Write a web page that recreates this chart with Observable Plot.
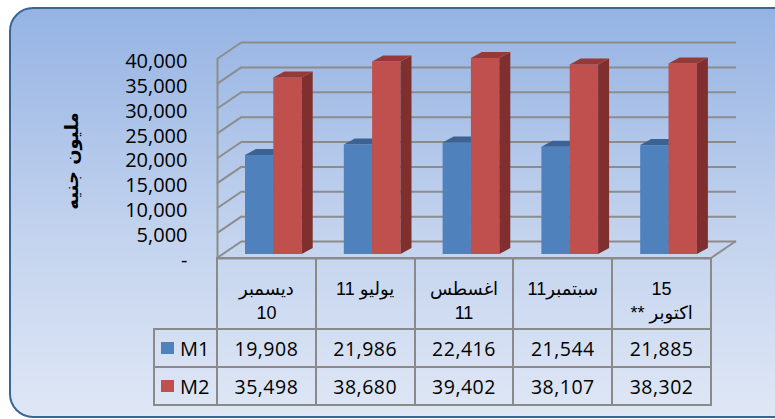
<!DOCTYPE html>
<html>
<head>
<meta charset="utf-8">
<script src="https://cdn.jsdelivr.net/npm/d3@7"></script>
<script src="https://cdn.jsdelivr.net/npm/@observablehq/plot@0.6"></script>
<style>
  body { margin: 0; }
  #wrap { position: relative; width: 775px; height: 419px; overflow: hidden; font-family: "Open Sans", "DejaVu Sans", sans-serif; }
  #bg { position: absolute; left: 9px; top: 7px; width: 800px; height: 411px; box-sizing: border-box;
        border: 2px solid #3a6696; border-radius: 24px;
        background: linear-gradient(to bottom, #95b3e3 0%, #c3d3ee 55%, #dfe7f5 100%); }
  #chart { position: absolute; left: 0; top: 0; }
  .cell { position: absolute; box-sizing: border-box; border: 2px solid #8a8a8a; color: #000;
          display: flex; justify-content: center; align-items: center; }
  .num { font-family: "Open Sans", sans-serif; font-size: 19.5px; letter-spacing: 0.5px; }
  .head { align-items: flex-start; padding-top: 18px; line-height: 24px; font-family: "Liberation Sans", "DejaVu Sans", sans-serif;
          font-size: 18px; text-align: center; direction: rtl; }
  .lab { justify-content: flex-start; font-family: "Open Sans", sans-serif; font-size: 20px; }
  .sw { display: inline-block; width: 13px; height: 12px; margin-left: 6px; margin-right: 6px; }
</style>
</head>
<body>
<div id="wrap">
  <div id="bg"></div>
  <div id="chart"></div>
  <div id="table"></div>
</div>
<script>
// ---------- data ----------
const categories = ["ديسمبر 10", "يوليو 11", "اغسطس 11", "سبتمبر11", "15 اكتوبر**"];
const categoryLines = [["ديسمبر", "10"], ["يوليو 11"], ["اغسطس", "11"], ["سبتمبر11"], ["15", "اكتوبر **"]];
const seriesNames = ["M1", "M2"];
const m1 = [19908, 21986, 22416, 21544, 21885];
const m2 = [35498, 38680, 39402, 38107, 38302];
const yTicks = [0, 5000, 10000, 15000, 20000, 25000, 30000, 35000, 40000];
const yTitle = "مليون جنيه";

// ---------- style ----------
const colors = {M1: "#4f81bd", M2: "#c0504d"};
const tops = {M1: "#3a6394", M2: "#973a37"};
const sides = {M1: "#375d8b", M2: "#7f2f2d"};
const GRID = "#8c8c8c";
const WALL_DX = 25, WALL_DY = -17;   // depth of the 3D box
const BAR_DX = 11, BAR_DY = -6;      // depth of each bar
const BAR_FRONT_DY = -4;             // bars' front plane relative to floor front
const insets = {M1: [28, 42.5], M2: [56.3, 14.1]};

const n = categories.length;
const rows = categories.flatMap((c, i) => [
  {i, c, s: "M1", v: m1[i]},
  {i, c, s: "M2", v: m2[i]}
]);

function faces(series) {
  const [inL, inR] = insets[series];
  const data = rows.filter(d => d.s === series);
  return (index, scales) => {
    const g = d3.create("svg:g");
    for (const d of data) {
      const x1 = scales.x(d.i) + inL, x2 = scales.x(d.i + 1) - inR;
      const y0 = scales.y(0) + BAR_FRONT_DY, yv = scales.y(d.v) + BAR_FRONT_DY;
      g.append("polygon")
        .attr("points", [[x2, y0], [x2, yv], [x2 + BAR_DX, yv + BAR_DY], [x2 + BAR_DX, y0 + BAR_DY]].join(" "))
        .attr("fill", sides[series]);
      g.append("polygon")
        .attr("points", [[x1, yv], [x2, yv], [x2 + BAR_DX, yv + BAR_DY], [x1 + BAR_DX, yv + BAR_DY]].join(" "))
        .attr("fill", tops[series]);
    }
    return g.node();
  };
}

function slants(index, scales) {
  const g = d3.create("svg:g").attr("stroke", GRID).attr("stroke-width", 2);
  const segs = yTicks.map(t => [scales.x(0), scales.y(t)]).concat([[scales.x(n), scales.y(0)]]);
  for (const [x, y] of segs) {
    g.append("line").attr("x1", x).attr("y1", y).attr("x2", x + WALL_DX).attr("y2", y + WALL_DY);
  }
  return g.node();
}

function bars(series) {
  const [inL, inR] = insets[series];
  return Plot.rectY(rows.filter(d => d.s === series), {
    x1: "i", x2: d => d.i + 1, y1: 0, y2: "v",
    insetLeft: inL, insetRight: inR, dy: BAR_FRONT_DY, fill: colors[series]
  });
}

const chart = Plot.plot({
  width: 775, height: 270,
  marginLeft: 217, marginRight: 64, marginTop: 59, marginBottom: 12,
  x: {type: "linear", domain: [0, n], axis: null},
  y: {domain: [0, 40000], axis: null},
  style: {background: "transparent", overflow: "visible", fontFamily: "'Open Sans', 'DejaVu Sans', sans-serif"},
  marks: [
    Plot.ruleY(yTicks, {x1: 0, x2: n, dx: WALL_DX, dy: WALL_DY, stroke: GRID, strokeWidth: 2}),
    slants,
    Plot.ruleX([0], {y1: 0, y2: 40000, stroke: GRID, strokeWidth: 2}),
    Plot.ruleY([0], {x1: 0, x2: n, stroke: GRID, strokeWidth: 2}),
    bars("M1"), faces("M1"),
    bars("M2"), faces("M2"),
    Plot.text(yTicks, {x: 0, y: d => d, text: d => d === 0 ? "-" : d3.format(",")(d),
      dx: -30, dy: 2, textAnchor: "end", fontSize: 20, fill: "#000", ariaLabel: "ytick"}),
    Plot.text([yTitle], {frameAnchor: "left", textAnchor: "middle", rotate: -90, dx: -145, dy: 2, fontSize: 18, fontWeight: "bold",
      fontFamily: "DejaVu Sans", fill: "#000", ariaLabel: "ytitle"})
  ]
});
d3.select(chart).selectAll('g[aria-label="ytick"] text').style("letter-spacing", "1.5px");
document.getElementById("chart").appendChild(chart);

// ---------- data table (columns follow the chart's x scale) ----------
const xs = chart.scale("x");
const rowEdges = [258, 329, 367, 405];
const labelLeft = 154;
const table = document.getElementById("table");
function cell(left, right, top, bottom, cls, html) {
  const d = document.createElement("div");
  d.className = "cell " + cls;
  d.style.left = (left - 1) + "px";
  d.style.top = (top - 1) + "px";
  d.style.width = (right - left + 2) + "px";
  d.style.height = (bottom - top + 2) + "px";
  d.innerHTML = html;
  table.appendChild(d);
  return d;
}
const fmt = d3.format(",");
categoryLines.forEach((lines, i) => {
  cell(xs.apply(i), xs.apply(i + 1), rowEdges[0], rowEdges[1], "head", "<div>" + lines.join("<br>") + "</div>");
});
[m1, m2].forEach((vals, r) => {
  const s = seriesNames[r];
  cell(labelLeft, xs.apply(0), rowEdges[r + 1], rowEdges[r + 2], "lab",
    `<span class="sw" style="background:${colors[s]}"></span><span>${s}</span>`);
  vals.forEach((v, i) => {
    cell(xs.apply(i), xs.apply(i + 1), rowEdges[r + 1], rowEdges[r + 2], "num", fmt(v));
  });
});
</script>
</body>
</html>
